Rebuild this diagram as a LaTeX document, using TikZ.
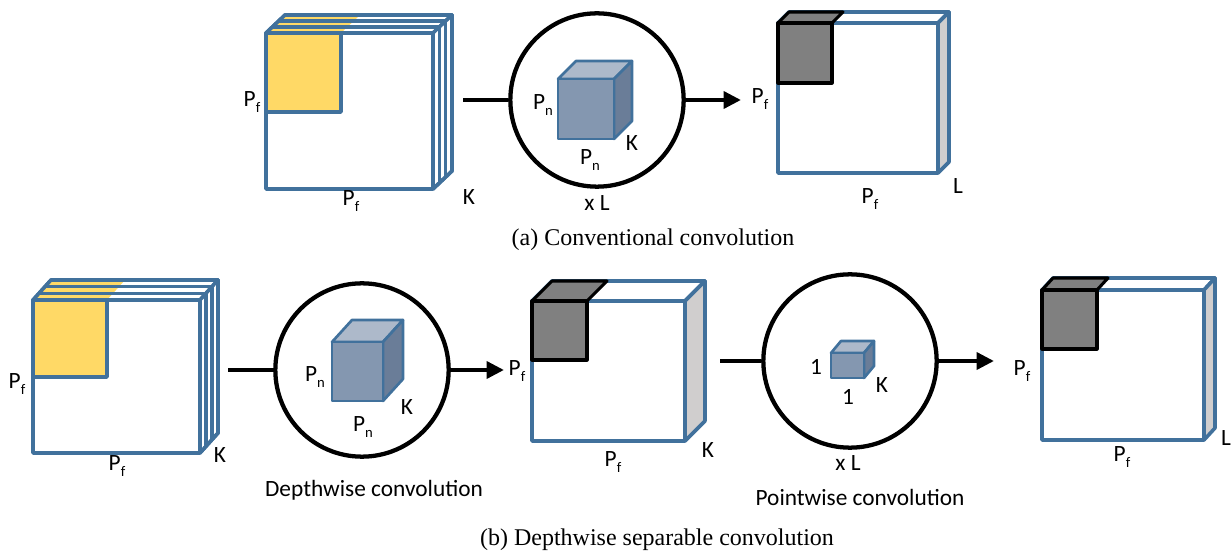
\documentclass[tikz,border=0pt]{standalone}
\usepackage{fontspec}
\setmainfont{Liberation Serif}
\newfontfamily\labfont{Carlito}
\usetikzlibrary{arrows.meta}
\definecolor{bblue}{RGB}{65,113,156}
\definecolor{yel}{RGB}{255,217,102}
\definecolor{dgray}{RGB}{128,128,128}
\definecolor{lgray}{RGB}{208,206,206}
\definecolor{cubefront}{RGB}{132,151,176}
\definecolor{cubetop}{RGB}{173,185,202}
\definecolor{cubeside}{RGB}{106,125,152}
\newcommand{\sbs}[1]{\raisebox{-.55ex}{\fontsize{11}{11}\selectfont #1}}
% stacked feature maps: x0 y0 x1 y1 dx dy xs ys(yellow)
\newcommand{\stackmap}[8]{%
  \filldraw[boxline,fill=white] (#1,#2) -- (#1+#5,#2+#6) -- (#3+#5,#2+#6) -- (#3,#2) -- cycle;
  \fill[yel] (#1,#2) -- (#1+#5,#2+#6) -- (#7+#5,#2+#6) -- (#7,#2) -- cycle;
  \filldraw[boxline,fill=white] (#3,#2) -- (#3+#5,#2+#6) -- (#3+#5,#4+#6) -- (#3,#4) -- cycle;
  \foreach \t in {0.333,0.667}{%
    \draw[boxline] (#1+\t*#5,#2+\t*#6) -- (#3+\t*#5,#2+\t*#6) -- (#3+\t*#5,#4+\t*#6);}
  \draw[boxline] (#1,#2) -- (#1+#5,#2+#6) -- (#3+#5,#2+#6) -- (#3+#5,#4+#6) -- (#3,#4);
  \filldraw[boxline,fill=white] (#1,#2) rectangle (#3,#4);
  \filldraw[boxline,fill=yel] (#1,#2) rectangle (#7,#8);
}
% output map: x0 y0 x1 y1 dx dy xs ys(gray)
\newcommand{\outmap}[8]{%
  \filldraw[boxline,fill=white] (#1,#2) -- (#1+#5,#2+#6) -- (#3+#5,#2+#6) -- (#3,#2) -- cycle;
  \filldraw[boxline,fill=lgray] (#3,#2) -- (#3+#5,#2+#6) -- (#3+#5,#4+#6) -- (#3,#4) -- cycle;
  \filldraw[boxline,fill=white] (#1,#2) rectangle (#3,#4);
  \filldraw[grayline,fill=dgray] (#1,#2) -- (#1+#5,#2+#6) -- (#7+#5,#2+#6) -- (#7,#2) -- cycle;
  \filldraw[grayline,fill=dgray] (#1,#2) rectangle (#7,#8);
}
% kernel cube: x0 y0 x1 y1 dx dy
\newcommand{\kcube}[6]{%
  \filldraw[cubeline,fill=cubetop] (#1,#2) -- (#1+#5,#2+#6) -- (#3+#5,#2+#6) -- (#3,#2) -- cycle;
  \filldraw[cubeline,fill=cubeside] (#3,#2) -- (#3+#5,#2+#6) -- (#3+#5,#4+#6) -- (#3,#4) -- cycle;
  \filldraw[cubeline,fill=cubefront] (#1,#2) rectangle (#3,#4);
}
\tikzset{
  boxline/.style={draw=bblue,line width=2.7pt,line join=round},
  grayline/.style={draw=black,line width=2.3pt,line join=round},
  cubeline/.style={draw=bblue,line width=2pt,line join=round},
  op/.style={circle,draw=black,line width=3.2pt,minimum size=130pt,inner sep=0pt},
  conn/.style={line width=3.2pt},
  arr/.style={line width=3.2pt,-{Triangle[length=13pt,width=12.5pt]}},
  lab/.style={font=\labfont\fontsize{17.5}{20}\selectfont,inner sep=0pt},
  captext/.style={font=\fontsize{18}{21}\selectfont,inner sep=0pt}
}
\begin{document}
\begin{tikzpicture}[x=0.75pt,y=-0.75pt]
\useasboundingbox (0,0) rectangle (1231,555);
% ---------- (a) ----------
\stackmap{266}{33}{433}{189}{19}{-18}{341}{112}
\node[lab] (a1) at (252,102) {P\sbs{f}};
\node[lab] (a2) at (351,201) {P\sbs{f}};
\node[lab] (a3) at (469,197) {K};
\node[op] (C1) at (597,100) {};
\kcube{558}{79}{614}{139}{18}{-18}
\node[lab] (a4) at (543,105) {P\sbs{n}};
\node[lab] (a5) at (632,143) {K};
\node[lab] (a6) at (590,160) {P\sbs{n}};
\node[lab] (a7) at (597,203) {x L};
\coordinate (L1) at (463,100);
\coordinate (A1) at (741,100);
\draw[conn] (L1) -- (C1.west);
\draw[arr] (C1.east) -- (A1);
\outmap{778}{23}{938}{173}{11}{-11}{832}{83}
\node[lab] (a8) at (760,99) {P\sbs{f}};
\node[lab] (a9) at (870,199) {P\sbs{f}};
\node[lab] (a10) at (958,186) {L};
\node[captext] (capa) at (653,240) {(a) Conventional convolution};
% ---------- (b) ----------
\stackmap{33}{300}{200}{453}{18}{-20}{107}{377}
\node[lab] (b1) at (17,384) {P\sbs{f}};
\node[lab] (b2) at (117,466) {P\sbs{f}};
\node[lab] (b3) at (220,455) {K};
\node[op] (C2) at (362,370) {};
\kcube{332}{342}{383}{401}{20}{-22}
\node[lab] (b4) at (315,377) {P\sbs{n}};
\node[lab] (b5) at (407,407) {K};
\node[lab] (b6) at (363,427) {P\sbs{n}};
\node[lab] (b7) at (374,490) {Depthwise convolution};
\coordinate (L2) at (228,370);
\coordinate (A2) at (504,370);
\draw[conn] (L2) -- (C2.west);
\draw[arr] (C2.east) -- (A2);
\outmap{532}{301}{685}{441}{20}{-20}{587}{360}
\node[lab] (b8) at (517,371) {P\sbs{f}};
\node[lab] (b9) at (613,462) {P\sbs{f}};
\node[lab] (b10) at (708,450) {K};
\node[op] (C3) at (850,361) {};
\kcube{831}{353}{864}{378}{10}{-12}
\node[lab] (b11) at (816,367) {1};
\node[lab] (b12) at (882,385) {K};
\node[lab] (b13) at (848,397) {1};
\node[lab] (b14) at (848,463) {x L};
\node[lab] (b15) at (860,497) {Pointwise convolution};
\coordinate (L3) at (720,361);
\coordinate (A3) at (994,361);
\draw[conn] (L3) -- (C3.west);
\draw[arr] (C3.east) -- (A3);
\outmap{1042}{290}{1204}{440}{11}{-12}{1097}{349}
\node[lab] (b16) at (1022,371) {P\sbs{f}};
\node[lab] (b17) at (1122,457) {P\sbs{f}};
\node[lab] (b18) at (1226,438) {L};
\node[captext] (capb) at (657,540) {(b) Depthwise separable convolution};
\end{tikzpicture}
\end{document}
